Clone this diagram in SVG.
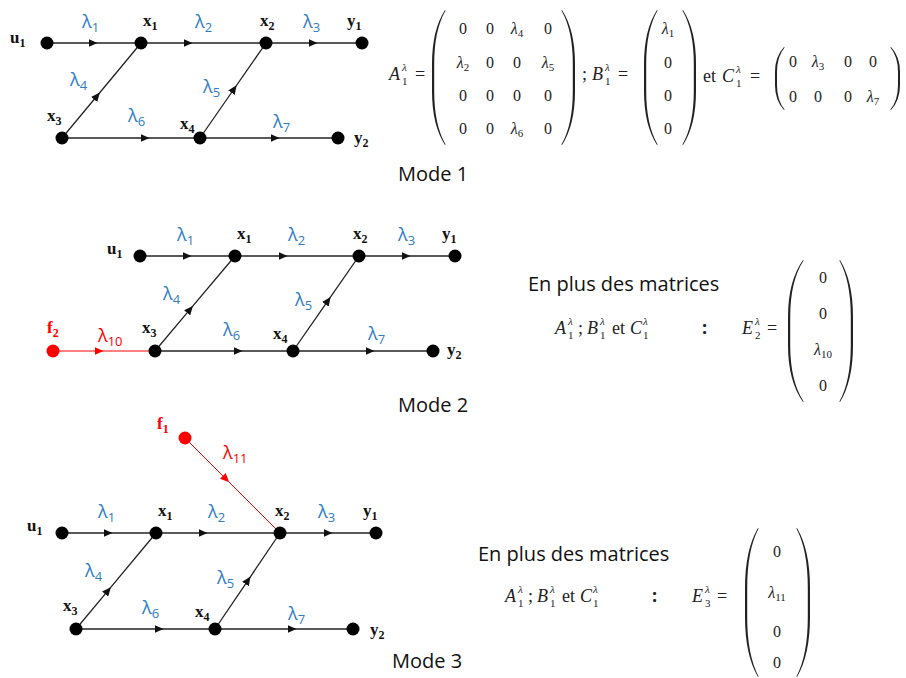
<svg xmlns="http://www.w3.org/2000/svg" width="906" height="678" viewBox="0 0 906 678">
<defs>
<style>
.e{stroke:#222;stroke-width:1.3;fill:none;marker-mid:url(#ar)}
.er{stroke:#f00;stroke-width:1;fill:none;marker-mid:url(#arr)}
.n{fill:#000}
.nr{fill:#f00}
.nl{font-family:"Liberation Serif",serif;font-weight:bold;font-size:17px;fill:#111}
.nl tspan{font-size:12px}
.nlr{font-family:"Liberation Serif",serif;font-weight:bold;font-size:17px;fill:#f00}
.nlr tspan{font-size:12px}
.lam{font-family:"Open Sans",sans-serif;font-size:18px;fill:#2E7CC6}
.lam tspan{font-size:13px}
.lamr{font-family:"Open Sans",sans-serif;font-size:18px;fill:#f00}
.lamr tspan{font-size:13px}
.mode{font-family:"Open Sans",sans-serif;font-size:20px;fill:#111}
.mc{font-family:"Liberation Serif",serif;font-size:16px;fill:#222;text-anchor:middle}
.ml{font-style:italic}
.mc tspan{font-size:11px;font-style:normal}
.li{font-style:italic}
.mi{font-family:"Liberation Serif",serif;font-style:italic;font-size:18px;fill:#222}
.ms{font-family:"Liberation Serif",serif;font-size:11px;fill:#222}
.eq{font-family:"Liberation Serif",serif;font-size:18px;fill:#222}
.par{fill:#222}
.col{font-family:"Open Sans",sans-serif;font-weight:bold;font-size:18px;fill:#222}
</style>
<marker id="ar" viewBox="0 0 9 8" markerWidth="9" markerHeight="8" refX="4.5" refY="4" orient="auto" markerUnits="userSpaceOnUse"><path d="M0,0 L9,4 L0,8 Z" fill="#111"/></marker>
<marker id="arr" viewBox="0 0 9 8" markerWidth="9" markerHeight="8" refX="4.5" refY="4" orient="auto" markerUnits="userSpaceOnUse"><path d="M0,0 L9,4 L0,8 Z" fill="#f00"/></marker>
</defs>

<!-- ================= connectors ================= -->
<g id="connectors">
  <!-- mode 1 -->
  <path class="e" d="M47,43 L93,43 L141,43"/>
  <path class="e" d="M141,43 L188,43 L266,43"/>
  <path class="e" d="M266,43 L313,43 L362,43"/>
  <path class="e" d="M62,138 L97,96 L141,43"/>
  <path class="e" d="M62,138 L145,138 L200,138"/>
  <path class="e" d="M200,138 L234,89 L266,43"/>
  <path class="e" d="M200,138 L275,138 L338,138"/>
  <!-- mode 2 -->
  <path class="e" d="M140,256 L187,256 L235,256"/>
  <path class="e" d="M235,256 L283,256 L359,256"/>
  <path class="e" d="M359,256 L406,256 L455,256"/>
  <path class="er" d="M53,351 L99,351 L155,351"/>
  <path class="e" d="M155,351 L190,309.4 L235,256"/>
  <path class="e" d="M155,351 L238,351 L293,351"/>
  <path class="e" d="M293,351 L328,300.6 L359,256"/>
  <path class="e" d="M293,351 L370,351 L433,351"/>
  <!-- mode 3 -->
  <path class="er" d="M185,438 L226,479 L280,533"/>
  <path class="e" d="M62,533 L108,533 L156,533"/>
  <path class="e" d="M156,533 L203,533 L280,533"/>
  <path class="e" d="M280,533 L328,533 L376,533"/>
  <path class="e" d="M76,629 L108,590.6 L156,533"/>
  <path class="e" d="M76,629 L159,629 L215,629"/>
  <path class="e" d="M215,629 L248,580.3 L280,533"/>
  <path class="e" d="M215,629 L292,629 L353,629"/>
</g>

<!-- edge labels -->
<g id="edge-labels">
  <text class="lam" x="82" y="28">λ<tspan dy="4">1</tspan></text>
  <text class="lam" x="195" y="28">λ<tspan dy="4">2</tspan></text>
  <text class="lam" x="303" y="28">λ<tspan dy="4">3</tspan></text>
  <text class="lam" x="70" y="86">λ<tspan dy="4">4</tspan></text>
  <text class="lam" x="203" y="93">λ<tspan dy="4">5</tspan></text>
  <text class="lam" x="128" y="122">λ<tspan dy="4">6</tspan></text>
  <text class="lam" x="273" y="128">λ<tspan dy="4">7</tspan></text>

  <text class="lam" x="177" y="241">λ<tspan dy="4">1</tspan></text>
  <text class="lam" x="288" y="241">λ<tspan dy="4">2</tspan></text>
  <text class="lam" x="398" y="241">λ<tspan dy="4">3</tspan></text>
  <text class="lam" x="163" y="300">λ<tspan dy="4">4</tspan></text>
  <text class="lam" x="295" y="306">λ<tspan dy="4">5</tspan></text>
  <text class="lam" x="223" y="336">λ<tspan dy="4">6</tspan></text>
  <text class="lam" x="368" y="340">λ<tspan dy="4">7</tspan></text>
  <text class="lamr" x="98" y="342">λ<tspan dy="4">10</tspan></text>

  <text class="lamr" x="223" y="459">λ<tspan dy="4">11</tspan></text>
  <text class="lam" x="98" y="518">λ<tspan dy="4">1</tspan></text>
  <text class="lam" x="208" y="518">λ<tspan dy="4">2</tspan></text>
  <text class="lam" x="318" y="518">λ<tspan dy="4">3</tspan></text>
  <text class="lam" x="85" y="577">λ<tspan dy="4">4</tspan></text>
  <text class="lam" x="217" y="584">λ<tspan dy="4">5</tspan></text>
  <text class="lam" x="142" y="614">λ<tspan dy="4">6</tspan></text>
  <text class="lam" x="288" y="620">λ<tspan dy="4">7</tspan></text>
</g>

<!-- ================= nodes mode 1 ================= -->
<g id="m1-u1"><circle class="n" cx="47" cy="43" r="6.5"/><text class="nl" x="10" y="43">u<tspan dy="4">1</tspan></text></g>
<g id="m1-x1"><circle class="n" cx="141" cy="43" r="6.5"/><text class="nl" x="143" y="26">x<tspan dy="4">1</tspan></text></g>
<g id="m1-x2"><circle class="n" cx="266" cy="43" r="6.5"/><text class="nl" x="260" y="26">x<tspan dy="4">2</tspan></text></g>
<g id="m1-y1"><circle class="n" cx="362" cy="43" r="6.5"/><text class="nl" x="347" y="26">y<tspan dy="4">1</tspan></text></g>
<g id="m1-x3"><circle class="n" cx="62" cy="138" r="6.5"/><text class="nl" x="47" y="121">x<tspan dy="4">3</tspan></text></g>
<g id="m1-x4"><circle class="n" cx="200" cy="138" r="6.5"/><text class="nl" x="180" y="129">x<tspan dy="4">4</tspan></text></g>
<g id="m1-y2"><circle class="n" cx="338" cy="138" r="6.5"/><text class="nl" x="354" y="143">y<tspan dy="4">2</tspan></text></g>

<!-- ================= nodes mode 2 ================= -->
<g id="m2-u1"><circle class="n" cx="140" cy="256" r="6.5"/><text class="nl" x="107" y="254">u<tspan dy="4">1</tspan></text></g>
<g id="m2-x1"><circle class="n" cx="235" cy="256" r="6.5"/><text class="nl" x="237" y="239">x<tspan dy="4">1</tspan></text></g>
<g id="m2-x2"><circle class="n" cx="359" cy="256" r="6.5"/><text class="nl" x="353" y="239">x<tspan dy="4">2</tspan></text></g>
<g id="m2-y1"><circle class="n" cx="455" cy="256" r="6.5"/><text class="nl" x="442" y="239">y<tspan dy="4">1</tspan></text></g>
<g id="m2-f2"><circle class="nr" cx="53" cy="351" r="6.5"/><text class="nlr" x="47" y="333">f<tspan dy="4">2</tspan></text></g>
<g id="m2-x3"><circle class="n" cx="155" cy="351" r="6.5"/><text class="nl" x="142" y="333">x<tspan dy="4">3</tspan></text></g>
<g id="m2-x4"><circle class="n" cx="293" cy="351" r="6.5"/><text class="nl" x="273" y="339">x<tspan dy="4">4</tspan></text></g>
<g id="m2-y2"><circle class="n" cx="433" cy="351" r="6.5"/><text class="nl" x="447" y="355">y<tspan dy="4">2</tspan></text></g>

<!-- ================= nodes mode 3 ================= -->
<g id="m3-f1"><circle class="nr" cx="185" cy="438" r="6.5"/><text class="nlr" x="157" y="429">f<tspan dy="4">1</tspan></text></g>
<g id="m3-u1"><circle class="n" cx="62" cy="533" r="6.5"/><text class="nl" x="27" y="531">u<tspan dy="4">1</tspan></text></g>
<g id="m3-x1"><circle class="n" cx="156" cy="533" r="6.5"/><text class="nl" x="158" y="516">x<tspan dy="4">1</tspan></text></g>
<g id="m3-x2"><circle class="n" cx="280" cy="533" r="6.5"/><text class="nl" x="275" y="516">x<tspan dy="4">2</tspan></text></g>
<g id="m3-y1"><circle class="n" cx="376" cy="533" r="6.5"/><text class="nl" x="363" y="516">y<tspan dy="4">1</tspan></text></g>
<g id="m3-x3"><circle class="n" cx="76" cy="629" r="6.5"/><text class="nl" x="63" y="611">x<tspan dy="4">3</tspan></text></g>
<g id="m3-x4"><circle class="n" cx="215" cy="629" r="6.5"/><text class="nl" x="195" y="617">x<tspan dy="4">4</tspan></text></g>
<g id="m3-y2"><circle class="n" cx="353" cy="629" r="6.5"/><text class="nl" x="370" y="635">y<tspan dy="4">2</tspan></text></g>

<!-- mode titles -->
<text class="mode" x="398" y="181">Mode 1</text>
<text class="mode" x="398" y="412">Mode 2</text>
<text class="mode" x="392" y="668">Mode 3</text>

<!-- ================= mode 1 matrices ================= -->
<g id="m1-matrices">
  <text class="mi" x="389" y="80">A</text><text class="ms li" x="402" y="71">λ</text><text class="ms" x="402" y="85">1</text><text class="eq" x="415" y="80">=</text>
  <path class="par" d="M445,10 Q432,30 432,64 L432,91 Q432,125 445,145 L445.6,144.5 Q434.2,125 434.2,91 L434.2,64 Q434.2,30 445.6,10.5 Z"/>
  <text class="mc" x="463" y="34">0</text><text class="mc" x="490" y="34">0</text><text class="mc ml" x="517" y="34">λ<tspan dy="3">4</tspan></text><text class="mc" x="548" y="34">0</text>
  <text class="mc ml" x="463" y="68">λ<tspan dy="3">2</tspan></text><text class="mc" x="490" y="68">0</text><text class="mc" x="517" y="68">0</text><text class="mc ml" x="548" y="68">λ<tspan dy="3">5</tspan></text>
  <text class="mc" x="463" y="101">0</text><text class="mc" x="490" y="101">0</text><text class="mc" x="517" y="101">0</text><text class="mc" x="548" y="101">0</text>
  <text class="mc" x="463" y="134">0</text><text class="mc" x="490" y="134">0</text><text class="mc ml" x="517" y="134">λ<tspan dy="3">6</tspan></text><text class="mc" x="548" y="134">0</text>
  <path class="par" d="M562,10 Q575,30 575,64 L575,91 Q575,125 562,145 L561.4,144.5 Q572.8,125 572.8,91 L572.8,64 Q572.8,30 561.4,10.5 Z"/>

  <text class="eq" x="582" y="80">;</text>
  <text class="mi" x="592" y="80">B</text><text class="ms li" x="605" y="71">λ</text><text class="ms" x="605" y="85">1</text><text class="eq" x="618" y="80">=</text>
  <path class="par" d="M657,10 Q644,30 644,64 L644,91 Q644,125 657,145 L657.6,144.5 Q646.2,125 646.2,91 L646.2,64 Q646.2,30 657.6,10.5 Z"/>
  <text class="mc ml" x="668" y="34">λ<tspan dy="3">1</tspan></text>
  <text class="mc" x="668" y="68">0</text>
  <text class="mc" x="668" y="101">0</text>
  <text class="mc" x="668" y="134">0</text>
  <path class="par" d="M683,10 Q696,30 696,64 L696,91 Q696,125 683,145 L682.4,144.5 Q693.8,125 693.8,91 L693.8,64 Q693.8,30 682.4,10.5 Z"/>

  <text class="eq" x="703" y="82">et</text>
  <text class="mi" x="722" y="82">C</text><text class="ms li" x="736" y="73">λ</text><text class="ms" x="736" y="87">1</text><text class="eq" x="750" y="82">=</text>
  <path class="par" d="M784,47 Q775,56.5 775,72 L775,85 Q775,100.5 784,110 L784.6,109.5 Q777,100.5 777,85 L777,72 Q777,56.5 784.6,47.5 Z"/>
  <text class="mc" x="793" y="67">0</text><text class="mc ml" x="818" y="67">λ<tspan dy="3">3</tspan></text><text class="mc" x="848" y="67">0</text><text class="mc" x="873" y="67">0</text>
  <text class="mc" x="793" y="102">0</text><text class="mc" x="818" y="102">0</text><text class="mc" x="848" y="102">0</text><text class="mc ml" x="873" y="102">λ<tspan dy="3">7</tspan></text>
  <path class="par" d="M891,47 Q900,56.5 900,72 L900,85 Q900,100.5 891,110 L890.4,109.5 Q898,100.5 898,85 L898,72 Q898,56.5 890.4,47.5 Z"/>
</g>

<!-- ================= mode 2 matrices ================= -->
<g id="m2-matrices">
  <text class="mode" x="528" y="291">En plus des matrices</text>
  <text class="mi" x="555" y="334">A</text><text class="ms li" x="568" y="325">λ</text><text class="ms" x="568" y="339">1</text>
  <text class="eq" x="578" y="334">;</text>
  <text class="mi" x="587" y="334">B</text><text class="ms li" x="600" y="325">λ</text><text class="ms" x="600" y="339">1</text>
  <text class="eq" x="612" y="334">et</text>
  <text class="mi" x="630" y="334">C</text><text class="ms li" x="643" y="325">λ</text><text class="ms" x="643" y="339">1</text>
  <text class="col" x="702" y="334">:</text>
  <text class="mi" x="742" y="334">E</text><text class="ms li" x="755" y="325">λ</text><text class="ms" x="755" y="339">2</text><text class="eq" x="767" y="334">=</text>
  <path class="par" d="M803,260 Q788,281 788,317 L788,345 Q788,381 803,402 L803.6,401.5 Q790.2,381 790.2,345 L790.2,317 Q790.2,281 803.6,260.5 Z"/>
  <text class="mc" x="823" y="283">0</text>
  <text class="mc" x="823" y="319">0</text>
  <text class="mc ml" x="823" y="355">λ<tspan dy="3">10</tspan></text>
  <text class="mc" x="823" y="391">0</text>
  <path class="par" d="M840,260 Q853,281 853,317 L853,345 Q853,381 840,402 L839.4,401.5 Q850.8,381 850.8,345 L850.8,317 Q850.8,281 839.4,260.5 Z"/>
</g>

<!-- ================= mode 3 matrices ================= -->
<g id="m3-matrices">
  <text class="mode" x="478" y="561">En plus des matrices</text>
  <text class="mi" x="505" y="602">A</text><text class="ms li" x="518" y="593">λ</text><text class="ms" x="518" y="607">1</text>
  <text class="eq" x="528" y="602">;</text>
  <text class="mi" x="537" y="602">B</text><text class="ms li" x="550" y="593">λ</text><text class="ms" x="550" y="607">1</text>
  <text class="eq" x="562" y="602">et</text>
  <text class="mi" x="580" y="602">C</text><text class="ms li" x="593" y="593">λ</text><text class="ms" x="593" y="607">1</text>
  <text class="col" x="652" y="602">:</text>
  <text class="mi" x="692" y="602">E</text><text class="ms li" x="705" y="593">λ</text><text class="ms" x="705" y="607">3</text><text class="eq" x="717" y="602">=</text>
  <path class="par" d="M758,528 Q745,550 745,588 L745,617 Q745,655 758,677 L758.6,676.5 Q747.2,655 747.2,617 L747.2,588 Q747.2,550 758.6,528.5 Z"/>
  <text class="mc" x="777" y="557">0</text>
  <text class="mc ml" x="777" y="598">λ<tspan dy="3">11</tspan></text>
  <text class="mc" x="777" y="637">0</text>
  <text class="mc" x="777" y="668">0</text>
  <path class="par" d="M797,528 Q810,550 810,588 L810,617 Q810,655 797,677 L796.4,676.5 Q807.8,655 807.8,617 L807.8,588 Q807.8,550 796.4,528.5 Z"/>
</g>
</svg>
